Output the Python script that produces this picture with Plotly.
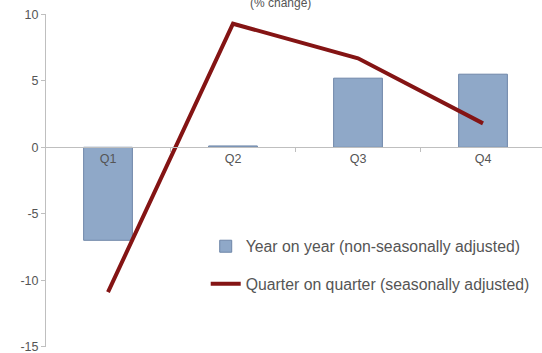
import plotly.graph_objects as go

quarters = ["Q1", "Q2", "Q3", "Q4"]
yoy = [-7.0, 0.1, 5.2, 5.5]
qoq = [-10.9, 9.3, 6.7, 1.8]
y_ticks = [10, 5, 0, -5, -10, -15]
y_tick_text = ["10", "5", "0", "-5", "-10", "-15"]

font_family = "Liberation Sans, Arial, sans-serif"
grey_text = "#555555"
axis_grey = "#BFBFBF"

fig = go.Figure()

fig.add_trace(go.Bar(
    x=quarters, y=yoy,
    name="Year on year (non-seasonally adjusted)",
    marker=dict(color="#8FA8C8", line=dict(color="#6E86A8", width=1)),
    legendgroup="a",
))

fig.add_trace(go.Scatter(
    x=quarters, y=qoq,
    mode="lines",
    name="Quarter on quarter (seasonally adjusted)",
    line=dict(color="#841414", width=4),
    legendgroup="b",
))

fig.update_layout(
    width=542, height=353,
    margin=dict(l=46, r=0, t=14, b=6),
    plot_bgcolor="white", paper_bgcolor="white",
    bargap=0.61,
    font=dict(family=font_family, size=12, color=grey_text),
    showlegend=True,
    legend=dict(
        x=0.322, y=0.353, xanchor="left", yanchor="top",
        bgcolor="rgba(255,255,255,0)",
        font=dict(size=15.8, color=grey_text),
        tracegroupgap=14,
        itemwidth=30,
    ),
    xaxis=dict(
        type="category",
        range=[-0.496, 3.472],
        anchor="free", position=200 / 333,
        showline=True, linecolor=axis_grey, linewidth=1,
        ticks="outside", tickson="boundaries", ticklen=4, tickcolor=axis_grey,
        showgrid=False, zeroline=False,
        tickfont=dict(size=12.5, color=grey_text),
    ),
    yaxis=dict(
        range=[-15.03, 10.03],
        tickmode="array", tickvals=y_ticks, ticktext=y_tick_text,
        ticklabeloverflow="allow",
        showline=True, linecolor=axis_grey, linewidth=1,
        ticks="outside", ticklen=4, tickcolor=axis_grey,
        showgrid=False, zeroline=False,
        tickfont=dict(size=12.5, color=grey_text),
    ),
    annotations=[dict(
        text="(% change)", xref="paper", yref="paper",
        x=0.472, y=1.033, xanchor="center", yanchor="middle",
        showarrow=False, font=dict(size=12, color=grey_text),
    )],
)

fig.write_html("out.html")
